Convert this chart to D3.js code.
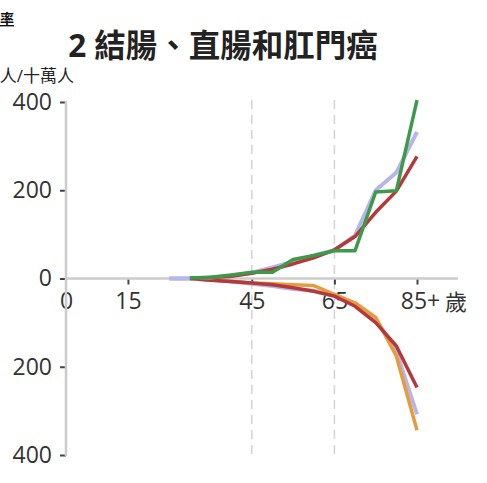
<!DOCTYPE html>
<html><head><meta charset="utf-8">
<script src="https://cdn.jsdelivr.net/npm/d3@7"></script>
<style>body{margin:0;background:#fff;} svg{display:block;} text{font-family:"Open Sans","Noto Sans CJK TC",sans-serif;}</style>
</head><body>
<script>
const title = "2 結腸、直腸和肛門癌";
const unitLabel = "人/十萬人";
const ages = [25, 30, 35, 40, 45, 50, 55, 60, 65, 70, 75, 80, 85];
const ages30 = [30, 35, 40, 45, 50, 55, 60, 65, 70, 75, 80, 85];
// upper (positive) series
const upperLavender = [0, 0, 2, 6, 13, 25, 38, 52, 64, 98, 200, 240, 332];
const upperRed = [0, 2, 5, 12, 21, 33, 47, 65, 95, 150, 198, 277];
const upperGreen = [1, 3, 8, 14, 14, 43, 52, 63, 63, 196, 199, 404];
// lower (negative) series, magnitudes
const lowerLavender = [0, 0, 3, 7, 12, 17, 24, 28, 40, 58, 92, 165, 308];
const lowerOrange = [0, 3, 7, 10, 12, 14, 16, 36, 55, 88, 176, 344];
const lowerRed = [0, 4, 7, 10, 14, 21, 29, 40, 63, 100, 153, 247];
const xTicks = [0, 15, 45, 65, 85];
const yTicks = [-400, -200, 0, 200, 400];
const dashedAges = [45, 65];

const W = 487, H = 483;
const svg = d3.select("body").append("svg").attr("width", W).attr("height", H);
const x = d3.scaleLinear().domain([0, 85]).range([66, 417]);
const y = d3.scaleLinear().domain([-400, 400]).range([455, 102]);

// header fragment
svg.append("text").attr("x", 0).attr("y", 24).attr("font-size", 14).attr("font-weight", "bold")
  .attr("fill", "#111").attr("text-decoration", "underline").text("率");

svg.append("text").attr("x", 223).attr("y", 57).attr("text-anchor", "middle")
  .attr("font-size", 31.5).attr("font-weight", "bold").attr("fill", "#222").text(title);

svg.append("text").attr("x", 74).attr("y", 82).attr("text-anchor", "end")
  .attr("font-size", 17).attr("fill", "#222").text(unitLabel);

// dashed guides
svg.selectAll("line.guide").data(dashedAges).enter().append("line")
  .attr("x1", d => x(d)).attr("x2", d => x(d)).attr("y1", 100).attr("y2", 458)
  .attr("stroke", "#d4d4d4").attr("stroke-width", 1.5).attr("stroke-dasharray", "9,6");

// x axis
const xAxis = svg.append("g").attr("transform", `translate(0,${y(0)})`)
  .call(d3.axisBottom(x).tickValues(xTicks).tickSize(6).tickPadding(8)
    .tickFormat(d => d === 85 ? "85+" : d));
xAxis.select(".domain").remove();
xAxis.append("line").attr("x1", 66).attr("x2", 458).attr("stroke", "#ccc").attr("stroke-width", 2.5);
xAxis.selectAll(".tick line").attr("stroke", "#444").attr("stroke-width", 2);
xAxis.selectAll(".tick").filter(d => d === 0).select("line").remove();
xAxis.selectAll(".tick text").attr("font-size", 23).attr("fill", "#333")
  .attr("font-family", "'Open Sans',sans-serif");
xAxis.selectAll(".tick").filter(d => d === 85).select("text").attr("dx", 3);
svg.append("text").attr("x", x(85) + 28).attr("y", y(0) + 31).attr("font-size", 22)
  .attr("fill", "#333").text("歲");

// y axis
const yAxis = svg.append("g").attr("transform", `translate(66,0)`)
  .call(d3.axisLeft(y).tickValues(yTicks).tickSize(6).tickPadding(8).tickFormat(d => Math.abs(d)));
yAxis.select(".domain").remove();
yAxis.append("line").attr("y1", 101).attr("y2", 456).attr("stroke", "#ccc").attr("stroke-width", 2.5);
yAxis.selectAll(".tick line").attr("stroke", "#444").attr("stroke-width", 2);
yAxis.selectAll(".tick text").attr("font-size", 23).attr("fill", "#333")
  .attr("font-family", "'Open Sans',sans-serif");

const line = d3.line().x(d => x(d[0])).y(d => y(d[1]));
function draw(agesArr, vals, sign, color, w) {
  svg.append("path").datum(agesArr.map((a, i) => [a, sign * vals[i]]))
    .attr("d", line).attr("fill", "none").attr("stroke", color).attr("stroke-width", w)
    .attr("stroke-linejoin", "round");
}
draw(ages, lowerLavender, -1, "#b6b6ea", 4);
draw(ages30, lowerOrange, -1, "#e69c3e", 3.5);
draw(ages30, lowerRed, -1, "#b5383b", 3.5);
draw(ages, upperLavender, 1, "#b6b6ea", 4);
draw(ages30, upperRed, 1, "#b5383b", 3.5);
draw(ages30, upperGreen, 1, "#3d9a4a", 3.5);
</script>
</body></html>
